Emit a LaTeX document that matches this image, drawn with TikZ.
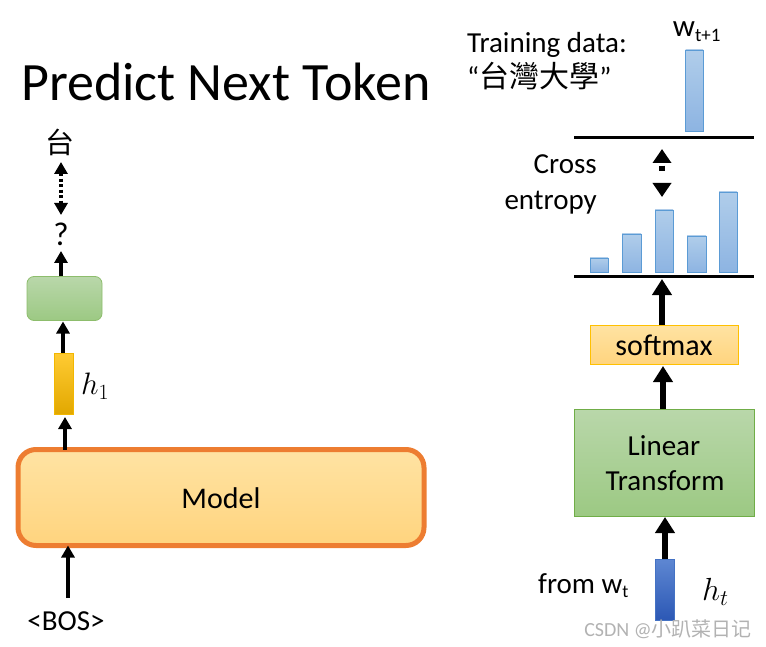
\documentclass[tikz,border=0pt]{standalone}
\usepackage{fix-cm}
\usepackage{fontspec}
\setmainfont{Carlito}
\newfontfamily\cjk{Noto Sans CJK TC}
\usetikzlibrary{arrows.meta}
\definecolor{mborder}{HTML}{ED7D31}
\definecolor{mtop}{HTML}{FFE3A3}
\definecolor{mbot}{HTML}{FFD47E}
\definecolor{gtop}{HTML}{B9D7AA}
\definecolor{gbot}{HTML}{9CC983}
\definecolor{gborder}{HTML}{70AD47}
\definecolor{stop}{HTML}{FFE3A3}
\definecolor{sbot}{HTML}{FFD47E}
\definecolor{sborder}{HTML}{FFC000}
\definecolor{btop}{HTML}{B0CDEA}
\definecolor{bbot}{HTML}{8DB4E2}
\definecolor{bborder}{HTML}{5B9BD5}
\definecolor{htop}{HTML}{FFCB33}
\definecolor{hbot}{HTML}{E2A800}
\definecolor{hborder}{HTML}{F2B700}
\definecolor{dtop}{HTML}{5E87D2}
\definecolor{dbot}{HTML}{2C58B5}
\definecolor{dborder}{HTML}{4472C4}
\begin{document}
\begin{tikzpicture}[x=1pt,y=-1pt,
  arrL/.style={line width=4pt,-{Triangle[width=13pt,length=12pt]}},
  arrR/.style={line width=5.5pt,-{Triangle[width=19pt,length=16pt]}},
  bar/.style={draw=bborder,line width=0.8pt,top color=btop,bottom color=bbot},
  hline/.style={line width=3.5pt},
  txt/.style={inner sep=0pt,font=\fontsize{#1}{#1}\selectfont},
  box/.style={inner sep=0pt,outer sep=0pt}]
\useasboundingbox (0,0) rectangle (766,647);

% ---------- left ----------
\node[txt=54,anchor=base west] (title) at (21,101) {Predict Next Token};

\node[box,draw=mborder,line width=5pt,rounded corners=18pt,top color=mtop,bottom color=mbot,
      minimum width=406pt,minimum height=96pt] (model) at (221,497.5) {};
\node[txt=30,anchor=base] (modeltxt) at (221,508) {Model};

\node[txt=29,anchor=base] (bos) at (66,630) {<BOS>};
\coordinate (bost) at (68,598);
\draw[arrL] (bost) -- (bost |- model.south);

\node[box,draw=hborder,line width=0.8pt,top color=htop,bottom color=hbot,
      minimum width=19pt,minimum height=61pt] (h1) at (63.5,383.5) {};
\node[txt=31,anchor=west] (h1l) at (81,386) {$h_1$};
\draw[arrL] (model.north -| 65,0) -- ([yshift=-3pt]h1.south -| 65,0);

\node[box,draw=gborder!80!white,line width=0.8pt,rounded corners=7pt,top color=gtop,bottom color=gbot,
      minimum width=75pt,minimum height=44pt] (g) at (64.5,298.5) {};
\draw[arrL] (h1.north -| 63,0) -- ([yshift=-1pt]g.south -| 63,0);

\node[txt=33,anchor=base] (q) at (61,246) {?};
\draw[arrL] (g.north -| 61,0) -- (61,251);

\node[font=\cjk\fontsize{29}{29}\selectfont,inner sep=0pt] (tai) at (60,142) {台};
\draw[line width=4pt,dash pattern=on 3pt off 2.5pt,
      {Triangle[width=13pt,length=12pt]}-{Triangle[width=13pt,length=12pt]}]
      (61,162) -- (61,215);

% ---------- right ----------
\node[txt=29,anchor=base west] (train) at (467,53) {Training data:};
\node[txt=29,anchor=base west] (tw) at (467,88) {“{\cjk\fontsize{30}{30}\selectfont 台灣大學}”};
\node[txt=31,anchor=base] (wt1) at (697,37) {w\textsubscript{\fontsize{19}{19}\selectfont t+1}};

\draw[bar] (685.5,50) rectangle (703,131);
\coordinate (l1a) at (574,137.5);
\coordinate (l1b) at (754,137.5);
\draw[hline] (l1a) -- (l1b);

\node[txt=29,anchor=base east] (cross) at (597,174) {Cross};
\node[txt=29,anchor=base east] (entropy) at (597,210) {entropy};
\draw[line width=5.5pt,dash pattern=on 0pt off 3.5pt on 5pt off 100pt,
      {Triangle[width=18pt,length=14pt]}-{Triangle[width=18pt,length=14pt]}]
      (662,149) -- (662,197);

\draw[bar] (590,258) rectangle (608,272);
\draw[bar] (622,234) rectangle (641,272);
\draw[bar] (655,210) rectangle (673,272);
\draw[bar] (687,236) rectangle (706,272);
\draw[bar] (719,192) rectangle (737,272);
\coordinate (l2a) at (574,276.5);
\coordinate (l2b) at (754,276.5);
\draw[hline] (l2a) -- (l2b);

\node[box,draw=sborder,line width=0.8pt,top color=stop,bottom color=sbot,
      minimum width=148pt,minimum height=39pt] (soft) at (664,344.5) {};
\node[txt=30,anchor=base] (softtxt) at (664,355) {softmax};
\draw[arrR] (soft.north -| 662,0) -- (662,279);

\node[box,draw=gborder,line width=0.8pt,top color=gtop,bottom color=gbot,
      minimum width=180pt,minimum height=107pt] (lin) at (664.5,462.5) {};
\node[txt=29,anchor=base] (lin1) at (664,455) {Linear};
\node[txt=29,anchor=base] (lin2) at (665,490) {Transform};
\draw[arrR] (lin.north -| 663,0) -- ([yshift=-2pt]soft.south -| 663,0);

\node[box,draw=dborder,line width=0.8pt,top color=dtop,bottom color=dbot,
      minimum width=19pt,minimum height=61pt] (ht) at (665,589.5) {};
\draw[arrR] (ht.north) -- ([yshift=-1pt]lin.south -| ht.north);
\node[txt=29,anchor=base west] (from) at (538,593) {from w\textsubscript{\fontsize{18}{18}\selectfont t}};
\node[txt=32,anchor=west] (htl) at (702,592) {$h_t$};

\node[txt=20,text=black!30,anchor=base east] (wm) at (752,636) {CSDN @{\cjk 小趴菜日记}};
\end{tikzpicture}
\end{document}
